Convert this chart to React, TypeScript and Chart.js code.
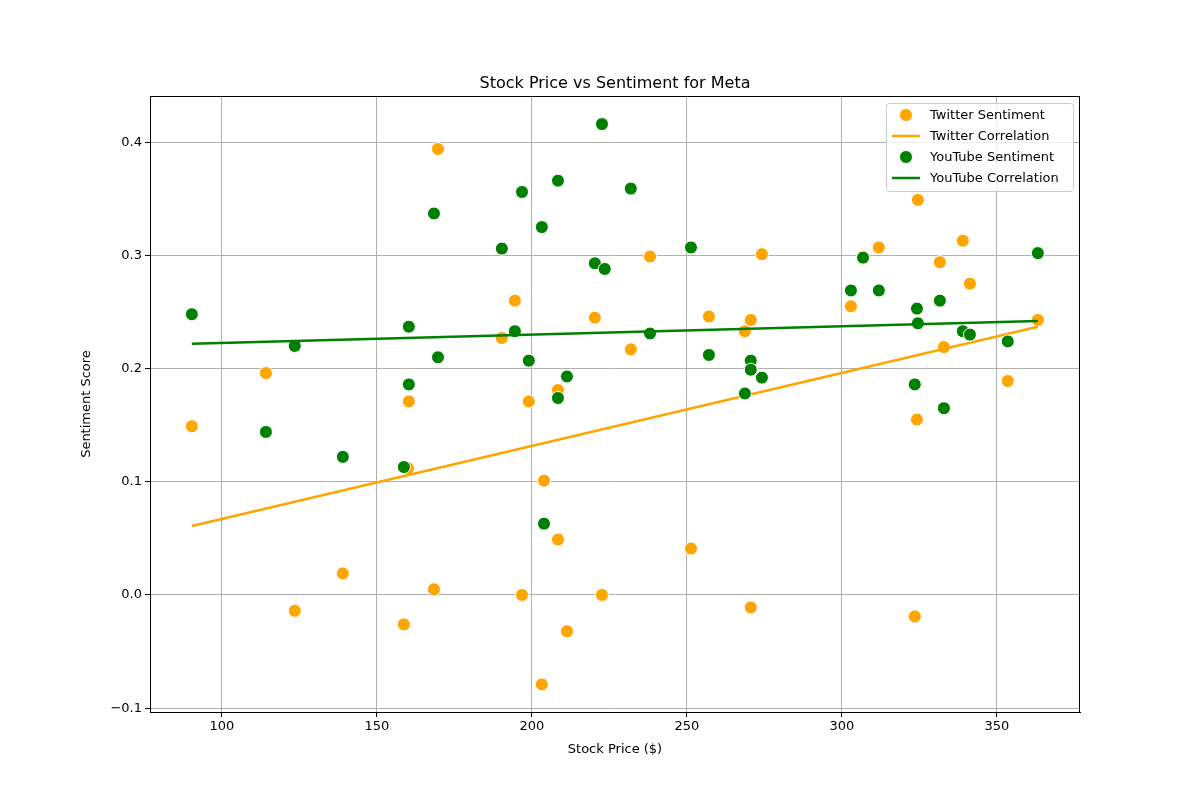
import { useRef, useEffect } from 'react';
import { Chart, registerables } from 'chart.js';

Chart.register(...registerables);

const twitterPrice = [90.3, 114.2, 123.5, 139.0, 158.7, 160.0, 160.3, 168.4, 169.7, 190.3, 194.5, 196.8, 199.0, 203.2, 203.9, 208.4, 208.4, 211.3, 220.3, 222.6, 231.9, 238.1, 251.3, 257.1, 268.7, 270.6, 270.6, 274.2, 302.9, 306.8, 311.9, 323.5, 324.2, 324.5, 331.6, 332.9, 339.0, 341.3, 353.5, 363.2];
const twitterScore = [0.149, 0.196, -0.014, 0.019, -0.026, 0.112, 0.171, 0.005, 0.394, 0.227, 0.260, 0.000, 0.171, -0.079, 0.101, 0.049, 0.181, -0.032, 0.245, 0.000, 0.217, 0.299, 0.041, 0.246, 0.233, 0.243, -0.011, 0.301, 0.255, 0.299, 0.307, -0.019, 0.155, 0.349, 0.294, 0.219, 0.313, 0.275, 0.189, 0.243];
const youtubePrice = [90.3, 114.2, 123.5, 139.0, 158.7, 160.3, 160.3, 168.4, 169.7, 190.3, 194.5, 196.8, 199.0, 203.2, 203.9, 208.4, 208.4, 211.3, 220.3, 222.6, 223.5, 231.9, 238.1, 251.3, 257.1, 268.7, 270.6, 270.6, 274.2, 302.9, 306.8, 311.9, 323.5, 324.2, 324.5, 331.6, 332.9, 339.0, 341.3, 353.5, 363.2];
const youtubeScore = [0.248, 0.144, 0.220, 0.122, 0.113, 0.237, 0.186, 0.337, 0.210, 0.306, 0.233, 0.356, 0.207, 0.325, 0.063, 0.366, 0.174, 0.193, 0.293, 0.416, 0.288, 0.359, 0.231, 0.307, 0.212, 0.178, 0.207, 0.199, 0.192, 0.269, 0.298, 0.269, 0.186, 0.253, 0.240, 0.260, 0.165, 0.233, 0.230, 0.224, 0.302];
// fitted correlation line endpoints
const fitX = [90.3, 363.2];
const twitterFit = [0.061, 0.237];
const youtubeFit = [0.222, 0.242];

const ORANGE = '#FFA500';
const GREEN = '#008000';
const FONT = 'DejaVu Sans';

const legendItems = [
  { label: 'Twitter Sentiment', color: ORANGE, kind: 'dot' },
  { label: 'Twitter Correlation', color: ORANGE, kind: 'line' },
  { label: 'YouTube Sentiment', color: GREEN, kind: 'dot' },
  { label: 'YouTube Correlation', color: GREEN, kind: 'line' },
];

const framePlugin = {
  id: 'frame',
  afterDraw(chart: any) {
    const { ctx, chartArea: a } = chart;
    ctx.save();
    ctx.strokeStyle = '#000';
    ctx.lineWidth = 1;
    ctx.strokeRect(a.left + 0.5, a.top + 0.5, a.right - a.left - 1, a.bottom - a.top);
    // title
    ctx.fillStyle = '#000';
    ctx.font = `16px "${FONT}"`;
    ctx.textAlign = 'center';
    ctx.textBaseline = 'alphabetic';
    ctx.fillText('Stock Price vs Sentiment for Meta', (a.left + a.right) / 2, a.top - 8);
    // legend
    const x0 = 886, y0 = 103, w = 187, h = 88;
    ctx.fillStyle = 'rgba(255,255,255,0.8)';
    ctx.strokeStyle = '#cccccc';
    ctx.beginPath();
    ctx.roundRect(x0 + 0.5, y0 + 0.5, w, h, 3);
    ctx.fill();
    ctx.stroke();
    ctx.font = `13px "${FONT}"`;
    ctx.textAlign = 'left';
    ctx.textBaseline = 'middle';
    legendItems.forEach((it, i) => {
      const cy = y0 + 12 + i * 21;
      if (it.kind === 'dot') {
        ctx.fillStyle = it.color;
        ctx.strokeStyle = '#fff';
        ctx.beginPath();
        ctx.arc(x0 + 20, cy, 6.5, 0, Math.PI * 2);
        ctx.fill();
        ctx.stroke();
      } else {
        ctx.strokeStyle = it.color;
        ctx.lineWidth = 2.5;
        ctx.beginPath();
        ctx.moveTo(x0 + 6, cy);
        ctx.lineTo(x0 + 34, cy);
        ctx.stroke();
        ctx.lineWidth = 1;
      }
      ctx.fillStyle = '#000';
      ctx.fillText(it.label, x0 + 44, cy + 1);
    });
    ctx.restore();
  },
};

const pts = (xs: number[], ys: number[]) => xs.map((x, i) => ({ x, y: ys[i] }));

export default function App() {
  const canvasRef = useRef<HTMLCanvasElement>(null);
  useEffect(() => {
    document.body.style.margin = '0';
    if (!canvasRef.current) return;
    const tickFont = { family: FONT, size: 13 };
    const chart = new Chart(canvasRef.current, {
      type: 'scatter',
      data: {
        datasets: [
          { label: 'Twitter Sentiment', data: pts(twitterPrice, twitterScore), backgroundColor: ORANGE, borderColor: '#fff', borderWidth: 1, pointRadius: 6.5, order: 4 },
          { type: 'line', label: 'Twitter Correlation', data: pts(fitX, twitterFit), borderColor: ORANGE, borderWidth: 2.5, pointRadius: 0, fill: false, order: 3 } as any,
          { label: 'YouTube Sentiment', data: pts(youtubePrice, youtubeScore), backgroundColor: GREEN, borderColor: '#fff', borderWidth: 1, pointRadius: 6.5, order: 2 },
          { type: 'line', label: 'YouTube Correlation', data: pts(fitX, youtubeFit), borderColor: GREEN, borderWidth: 2.5, pointRadius: 0, fill: false, order: 1 } as any,
        ],
      },
      options: {
        responsive: false,
        animation: false,
        layout: { padding: { left: 79, right: 120, top: 96, bottom: 43 } },
        plugins: { legend: { display: false }, tooltip: { enabled: false } },
        scales: {
          x: {
            type: 'linear', min: 76.8, max: 376.8,
            afterFit: (s: any) => { s.height = 45; },
            afterBuildTicks: (s: any) => { s.ticks = [100, 150, 200, 250, 300, 350].map(v => ({ value: v })); },
            ticks: { color: '#000', font: tickFont, padding: 2, callback: (v: any) => String(v) },
            grid: { color: '#b0b0b0', tickColor: '#000', tickLength: 5 },
            border: { color: '#000' },
            title: { display: true, text: 'Stock Price ($)', color: '#000', font: tickFont, padding: 0 },
          },
          y: {
            type: 'linear', min: -0.1034, max: 0.4408,
            afterFit: (s: any) => { s.width = 71; },
            afterBuildTicks: (s: any) => { s.ticks = [-0.1, 0, 0.1, 0.2, 0.3, 0.4].map(v => ({ value: v })); },
            ticks: { color: '#000', font: tickFont, padding: 3, callback: (v: any) => Number(v).toFixed(1).replace('-', '−') },
            grid: { color: '#b0b0b0', tickColor: '#000', tickLength: 5 },
            border: { color: '#000' },
            title: { display: true, text: 'Sentiment Score', color: '#000', font: tickFont, padding: 0 },
          },
        },
      },
      plugins: [framePlugin],
    } as any);
    return () => chart.destroy();
  }, []);
  return <canvas ref={canvasRef} width={1200} height={800} style={{ display: 'block', width: 1200, height: 800 }} />;
}
